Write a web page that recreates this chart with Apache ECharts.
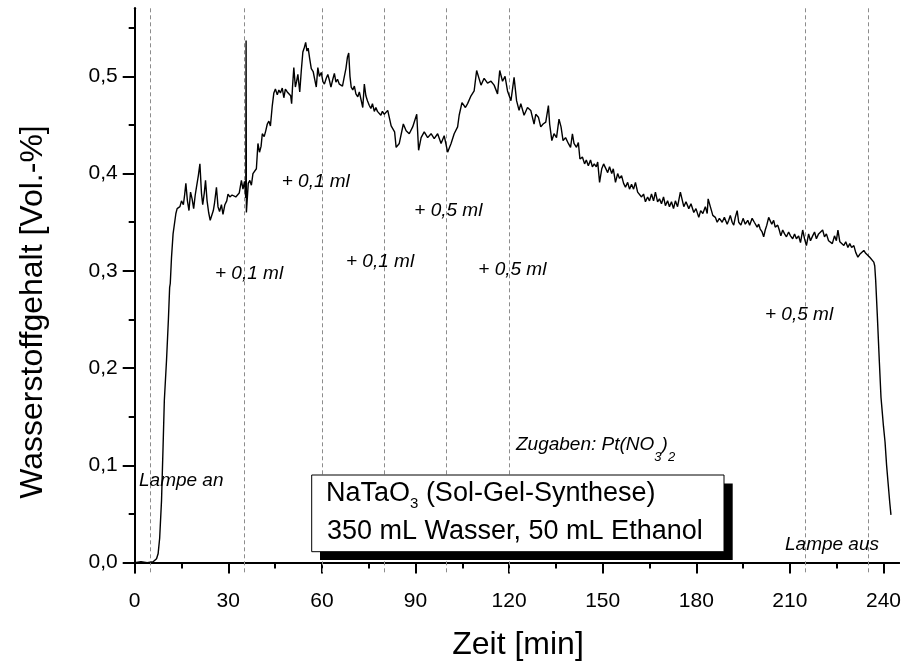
<!DOCTYPE html>
<html>
<head>
<meta charset="utf-8">
<script src="https://cdn.jsdelivr.net/npm/echarts@6/dist/echarts.min.js"></script>
<style>
  html, body { margin: 0; padding: 0; background: #fff; }
  #chart { width: 904px; height: 664px; }
</style>
</head>
<body>
<div id="chart"></div>
<script>
// Hydrogen content during photocatalysis (NaTaO3, sol-gel), time in minutes
const zeit = [
  0, 2, 4, 6, 7, 7.5, 8, 8.6, 9.1, 9.5, 10.2, 10.8, 11.2, 11.4, 11.8, 12.3, 12.6, 13.2, 13.6,
  14.0, 14.5, 15.0, 15.6, 16.0, 16.4, 16.9, 17.4, 17.9, 18.4, 18.9, 19.4, 19.8, 20.4, 20.9,
  21.4, 21.8, 22.3, 22.7, 23.2, 23.7, 24.2, 24.6, 25.2, 25.6, 26.2, 26.7, 27.2, 27.8, 28.3,
  28.9, 29.5, 29.9, 30.5, 31.2, 31.8, 32.4, 33.0, 33.5, 34.2, 34.7, 35.2, 35.6, 35.7, 35.8,
  36.4, 36.9, 37.4, 37.9, 38.5, 39.0, 39.5, 40.0, 40.5, 40.9, 41.5, 42.0, 42.5, 43.0, 43.5,
  44.1, 44.6, 45.1, 45.7, 46.2, 46.7, 47.3, 47.8, 48.3, 48.9, 49.4, 50.0, 50.3, 50.6, 51.0,
  51.5, 51.9, 52.3, 52.9, 53.4, 53.9, 54.4, 54.8, 55.2, 55.6, 56.1, 56.6, 57.2, 57.7, 58.2,
  58.7, 59.2, 59.8, 60.3, 60.8, 61.4, 61.9, 62.4, 62.9, 63.5, 64.0, 64.5, 65.0, 65.6, 66.1,
  66.6, 67.2, 67.7, 68.2, 68.6, 69.0, 69.4, 69.9, 70.4, 70.9, 71.5, 72.0, 72.6, 73.1, 73.6,
  74.1, 74.6, 75.2, 75.7, 76.2, 76.8, 77.3, 77.8, 78.4, 78.9, 79.4, 80.0, 81.1, 82.2, 83.3,
  83.8, 84.8, 86.1, 87.0, 88.0, 89.1, 90.4, 91.0, 91.8, 92.8, 93.9, 95.0, 96.0, 97.1, 98.2,
  99.2, 100.3, 101.4, 102.4, 103.5, 104.0, 104.9, 106.0, 106.7, 107.8, 108.8, 109.6, 110.2,
  111.0, 112.0, 113.1, 114.2, 115.2, 116.3, 117.0, 117.9, 118.7, 119.5, 120.6, 121.6,
  122.4, 123.2, 123.75, 124.8, 125.9, 126.95, 128.0, 128.55, 129.4, 130.15,
  130.9, 131.75, 132.6, 133.0, 133.7, 134.4, 135.2, 136.0, 136.65, 137.3,
  138.1, 139.0, 139.7, 140.3, 140.8, 141.6, 142.2, 142.7, 143.5, 144.2,
  144.75, 145.4, 146.1, 146.7, 147.3, 147.95, 148.4, 149.0, 149.7, 150.3,
  150.9, 151.6, 152.2, 152.9, 153.4, 154.1, 154.8, 155.4, 156.05, 156.7,
  157.3, 158.0, 158.6, 159.25, 159.9, 160.5, 161.2, 161.8, 162.45, 163.1,
  163.7, 164.4, 165.0, 165.65, 166.3, 166.9, 167.6, 168.2, 168.85, 169.5,
  170.1, 170.8, 171.4, 172.05, 172.7, 173.3, 174.0,
  174.9, 176.0, 176.7, 177.6, 178.3, 179.2, 179.9, 180.8, 181.4, 182.1,
  182.9, 183.5, 183.8, 184.5, 185.3, 186.1, 186.7, 187.4, 188.3, 189.0,
  189.9, 190.4, 190.9, 191.5, 192.0, 192.5, 193.1, 193.6, 194.3, 195.0,
  195.7, 196.5, 197.1, 197.9, 198.6, 199.5, 200.0, 200.5, 201.1, 201.6,
  202.1, 202.6, 203.2, 203.7, 204.2, 204.8, 205.3, 206.1, 206.6, 207.1,
  207.7, 208.3, 208.9, 209.6, 210.2, 210.9, 211.5, 212.1, 212.8, 213.4,
  214.1, 214.7, 215.3, 216.0, 216.6, 217.3, 217.9, 218.5, 219.2, 219.8,
  220.5, 221.1, 221.7, 222.4, 223.0, 223.6, 224.3, 224.9, 225.4, 226.0,
  226.6, 227.3, 227.9, 228.6, 229.2, 229.8, 230.5, 231.1, 231.8, 232.4,
  233.0, 233.7, 234.3, 234.9, 235.6, 236.2, 236.9, 237.2,
  237.5, 238.0, 238.7, 239.2, 239.6, 240.0, 240.5, 241.0, 241.5, 242.0, 242.4
];
const wasserstoff = [
  0.000, 0.001, 0.000, 0.001, 0.004, 0.009, 0.025, 0.064, 0.120, 0.167, 0.208, 0.250, 0.283, 0.287, 0.314, 0.338, 0.340, 0.359, 0.364,
  0.362, 0.366, 0.372, 0.368, 0.378, 0.390, 0.372, 0.362, 0.381, 0.374, 0.364, 0.378, 0.386, 0.398, 0.410,
  0.380, 0.368, 0.380, 0.393, 0.372, 0.360, 0.352, 0.350, 0.362, 0.370, 0.386, 0.366, 0.361, 0.368, 0.358,
  0.368, 0.372, 0.379, 0.376, 0.378, 0.379, 0.376, 0.374, 0.380, 0.393, 0.384, 0.392, 0.375, 0.537, 0.360,
  0.390, 0.393, 0.388, 0.400, 0.398, 0.405, 0.431, 0.422, 0.428, 0.441, 0.438, 0.444, 0.451, 0.454, 0.449,
  0.470, 0.483, 0.487, 0.481, 0.486, 0.483, 0.488, 0.478, 0.487, 0.484, 0.486, 0.480, 0.472, 0.490, 0.509,
  0.489, 0.495, 0.502, 0.484, 0.506, 0.525, 0.530, 0.535, 0.526, 0.529, 0.518, 0.508, 0.505, 0.497, 0.489,
  0.509, 0.500, 0.504, 0.495, 0.492, 0.498, 0.502, 0.496, 0.489, 0.497, 0.503, 0.494, 0.497, 0.492, 0.494,
  0.490, 0.500, 0.508, 0.520, 0.524, 0.500, 0.489, 0.486, 0.490, 0.482, 0.479, 0.484, 0.482, 0.468, 0.492,
  0.480, 0.475, 0.470, 0.467, 0.472, 0.464, 0.468, 0.464, 0.465, 0.460, 0.464, 0.461, 0.465, 0.449, 0.443,
  0.427, 0.431, 0.451, 0.444, 0.441, 0.448, 0.461, 0.424, 0.437, 0.443, 0.437, 0.441, 0.436, 0.441, 0.431,
  0.439, 0.422, 0.431, 0.441, 0.448, 0.460, 0.473, 0.468, 0.472, 0.480, 0.485, 0.506, 0.508,
  0.491, 0.498, 0.493, 0.495, 0.491, 0.482, 0.506, 0.495, 0.500, 0.485, 0.475, 0.499,
  0.475, 0.465, 0.472, 0.460, 0.468, 0.465, 0.451, 0.461, 0.458, 0.448,
  0.451, 0.453, 0.470, 0.451, 0.434, 0.441, 0.437, 0.456, 0.448, 0.434,
  0.437, 0.431, 0.427, 0.441, 0.431, 0.427, 0.432, 0.415, 0.417, 0.410,
  0.414, 0.408, 0.414, 0.407, 0.410, 0.407, 0.412, 0.391, 0.405, 0.410,
  0.408, 0.401, 0.407, 0.400, 0.405, 0.391, 0.400, 0.395, 0.398, 0.390,
  0.386, 0.391, 0.384, 0.389, 0.384, 0.391, 0.381, 0.383, 0.376, 0.379,
  0.371, 0.376, 0.372, 0.379, 0.372, 0.381, 0.371, 0.374, 0.369, 0.376,
  0.367, 0.372, 0.366, 0.371, 0.364, 0.372, 0.366,
  0.381, 0.366, 0.371, 0.364, 0.369, 0.360, 0.364, 0.355, 0.362, 0.359,
  0.366, 0.359, 0.374, 0.366, 0.357, 0.355, 0.350, 0.354, 0.350, 0.355,
  0.348, 0.352, 0.357, 0.350, 0.347, 0.355, 0.362, 0.350, 0.347, 0.354,
  0.348, 0.352, 0.347, 0.354, 0.350, 0.345, 0.348, 0.343, 0.340, 0.335,
  0.342, 0.347, 0.355, 0.357, 0.348, 0.352, 0.345, 0.347, 0.342, 0.336,
  0.342, 0.338, 0.335, 0.340, 0.336, 0.333, 0.338, 0.333, 0.336, 0.329,
  0.342, 0.333, 0.326, 0.338, 0.331, 0.336, 0.340, 0.333, 0.338, 0.336,
  0.342, 0.335, 0.338, 0.331, 0.333, 0.328, 0.336, 0.331, 0.342, 0.330,
  0.331, 0.326, 0.330, 0.324, 0.328, 0.324, 0.326, 0.319, 0.314, 0.317,
  0.316, 0.321, 0.318, 0.319, 0.314, 0.312, 0.309, 0.305,
  0.290, 0.256, 0.205, 0.170, 0.155, 0.140, 0.124, 0.100, 0.081, 0.062, 0.049
];

// Times of the events (lamp on, additions, lamp off)
const ereignisZeiten = [5, 35, 60, 80, 100, 120, 215, 235];

// Axis tick values
const xMajor = [0, 30, 60, 90, 120, 150, 180, 210, 240];
const xMinor = [15, 45, 75, 105, 135, 165, 195, 225];
const xTop = [15, 30, 45, 60, 75, 90, 105, 120, 135, 150, 165, 180, 195, 210, 225, 240];
const yMajor = [0, 0.1, 0.2, 0.3, 0.4, 0.5];
const yMinor = [0.05, 0.15, 0.25, 0.35, 0.45, 0.55];
const yRight = [0, 0.05, 0.1, 0.15, 0.2, 0.25, 0.3, 0.35, 0.4, 0.45, 0.5, 0.55];

const FONT = '"Liberation Sans", Arial, Helvetica, sans-serif';
const X_MIN = 0, X_MAX = 245, Y_MIN = -0.01, Y_MAX = 0.57;

const chart = echarts.init(document.getElementById('chart'), null, { renderer: 'canvas' });

const lineBlack = { show: true, lineStyle: { color: '#000', width: 2 } };
const noLine = { show: false };

function xAxisDef(extra) {
  return Object.assign({
    type: 'value', min: X_MIN, max: X_MAX, splitLine: { show: false },
    axisLine: noLine, axisLabel: { show: false }, axisTick: { show: false }
  }, extra);
}
function yAxisDef(extra) {
  return Object.assign({
    type: 'value', min: Y_MIN, max: Y_MAX, splitLine: { show: false },
    axisLine: noLine, axisLabel: { show: false }, axisTick: { show: false }
  }, extra);
}

const italic = size => ({ fontFamily: FONT, fontStyle: 'italic', fontSize: size, fill: '#000' });

const option = {
  animation: false,
  backgroundColor: '#fff',
  grid: { left: 134.7, right: 2.3, top: 8.3, bottom: 91.7, containLabel: false },
  xAxis: [
    xAxisDef({
      position: 'bottom',
      axisLine: lineBlack,
      axisTick: { show: true, inside: false, length: 11, lineStyle: { color: '#000', width: 2 }, customValues: xMajor },
      axisLabel: { show: true, customValues: xMajor, color: '#000', fontSize: 21, fontFamily: FONT, margin: 18 }
    }),
    xAxisDef({
      position: 'bottom',
      axisTick: { show: true, inside: false, length: 6, lineStyle: { color: '#000', width: 2 }, customValues: xMinor }
    }),
    xAxisDef({
      position: 'top',
      axisLine: lineBlack,
      axisTick: { show: true, inside: true, length: 4, lineStyle: { color: '#000', width: 1.5 }, customValues: xTop }
    })
  ],
  yAxis: [
    yAxisDef({
      position: 'left',
      axisLine: lineBlack,
      axisTick: { show: true, inside: false, length: 12, lineStyle: { color: '#000', width: 2 }, customValues: yMajor },
      axisLabel: {
        show: true, customValues: yMajor, color: '#000', fontSize: 21, fontFamily: FONT, margin: 17,
        formatter: v => v.toFixed(1).replace('.', ',')
      }
    }),
    yAxisDef({
      position: 'left',
      axisTick: { show: true, inside: false, length: 6, lineStyle: { color: '#000', width: 2 }, customValues: yMinor }
    }),
    yAxisDef({
      position: 'right',
      axisLine: lineBlack,
      axisTick: { show: true, inside: true, length: 4, lineStyle: { color: '#000', width: 1.5 }, customValues: yRight }
    })
  ],
  series: [
    {
      type: 'line',
      xAxisIndex: 0,
      yAxisIndex: 0,
      data: zeit.map((t, i) => [t, wasserstoff[i]]),
      showSymbol: false,
      symbol: 'none',
      lineStyle: { color: '#000', width: 1.4 },
      z: 3,
      markLine: {
        silent: true,
        symbol: ['none', 'none'],
        label: { show: false },
        lineStyle: { color: '#8c8c8c', width: 1, type: [4, 3] },
        data: ereignisZeiten.map(t => ({ xAxis: t })),
        z: 1
      }
    }
  ],
  graphic: [
    // axis titles
    {
      type: 'text', x: 518, y: 645, z: 10,
      style: { text: 'Zeit [min]', font: '32px ' + FONT, fill: '#000', align: 'center', verticalAlign: 'middle' }
    },
    {
      type: 'text', x: 33, y: 312, rotation: Math.PI / 2, z: 10,
      style: { text: 'Wasserstoffgehalt [Vol.-%]', font: '32px ' + FONT, fill: '#000', align: 'center', verticalAlign: 'middle' }
    },
    // annotations
    { type: 'text', x: 215, y: 273.5, z: 10, style: { text: '+ 0,1 ml', font: 'italic 19px ' + FONT, fill: '#000', verticalAlign: 'middle' } },
    { type: 'text', x: 281.7, y: 181.5, z: 10, style: { text: '+ 0,1 ml', font: 'italic 19px ' + FONT, fill: '#000', verticalAlign: 'middle' } },
    { type: 'text', x: 346, y: 262, z: 10, style: { text: '+ 0,1 ml', font: 'italic 19px ' + FONT, fill: '#000', verticalAlign: 'middle' } },
    { type: 'text', x: 414.3, y: 211, z: 10, style: { text: '+ 0,5 ml', font: 'italic 19px ' + FONT, fill: '#000', verticalAlign: 'middle' } },
    { type: 'text', x: 478.3, y: 269.5, z: 10, style: { text: '+ 0,5 ml', font: 'italic 19px ' + FONT, fill: '#000', verticalAlign: 'middle' } },
    { type: 'text', x: 765, y: 315, z: 10, style: { text: '+ 0,5 ml', font: 'italic 19px ' + FONT, fill: '#000', verticalAlign: 'middle' } },
    { type: 'text', x: 139, y: 480.6, z: 10, style: { text: 'Lampe an', font: 'italic 19px ' + FONT, fill: '#000', verticalAlign: 'middle' } },
    { type: 'text', x: 785, y: 545, z: 10, style: { text: 'Lampe aus', font: 'italic 19px ' + FONT, fill: '#000', verticalAlign: 'middle' } },
    {
      type: 'text', x: 516, y: 445 - 9.5, z: 10,
      style: {
        text: '{m|Zugaben: Pt(NO}{s|3}{m|)}{s|2}',
        verticalAlign: 'top',
        rich: {
          m: Object.assign(italic(19), { lineHeight: 19, verticalAlign: 'top' }),
          s: Object.assign(italic(13), { lineHeight: 28, verticalAlign: 'bottom' })
        }
      }
    },
    // sample box with drop shadow
    { type: 'rect', z: 20, shape: { x: 320, y: 483.5, width: 412.7, height: 76.5 }, style: { fill: '#000' } },
    { type: 'rect', z: 21, shape: { x: 311.7, y: 475, width: 412.3, height: 76.7 }, style: { fill: '#fff', stroke: '#000', lineWidth: 1 } },
    {
      type: 'text', x: 326, y: 494 - 13.5, z: 22,
      style: {
        text: '{m|NaTaO}{s|3}{m| (Sol-Gel-Synthese)}',
        verticalAlign: 'top',
        rich: {
          m: { fontFamily: FONT, fontSize: 27, lineHeight: 27, verticalAlign: 'top', fill: '#000' },
          s: { fontFamily: FONT, fontSize: 15, lineHeight: 31, verticalAlign: 'bottom', fill: '#000' }
        }
      }
    },
    {
      type: 'text', x: 327, y: 531.5, z: 22,
      style: { text: '350 mL Wasser, 50 mL Ethanol', font: '27px ' + FONT, fill: '#000', verticalAlign: 'middle' }
    }
  ]
};

chart.setOption(option);
</script>
</body>
</html>
